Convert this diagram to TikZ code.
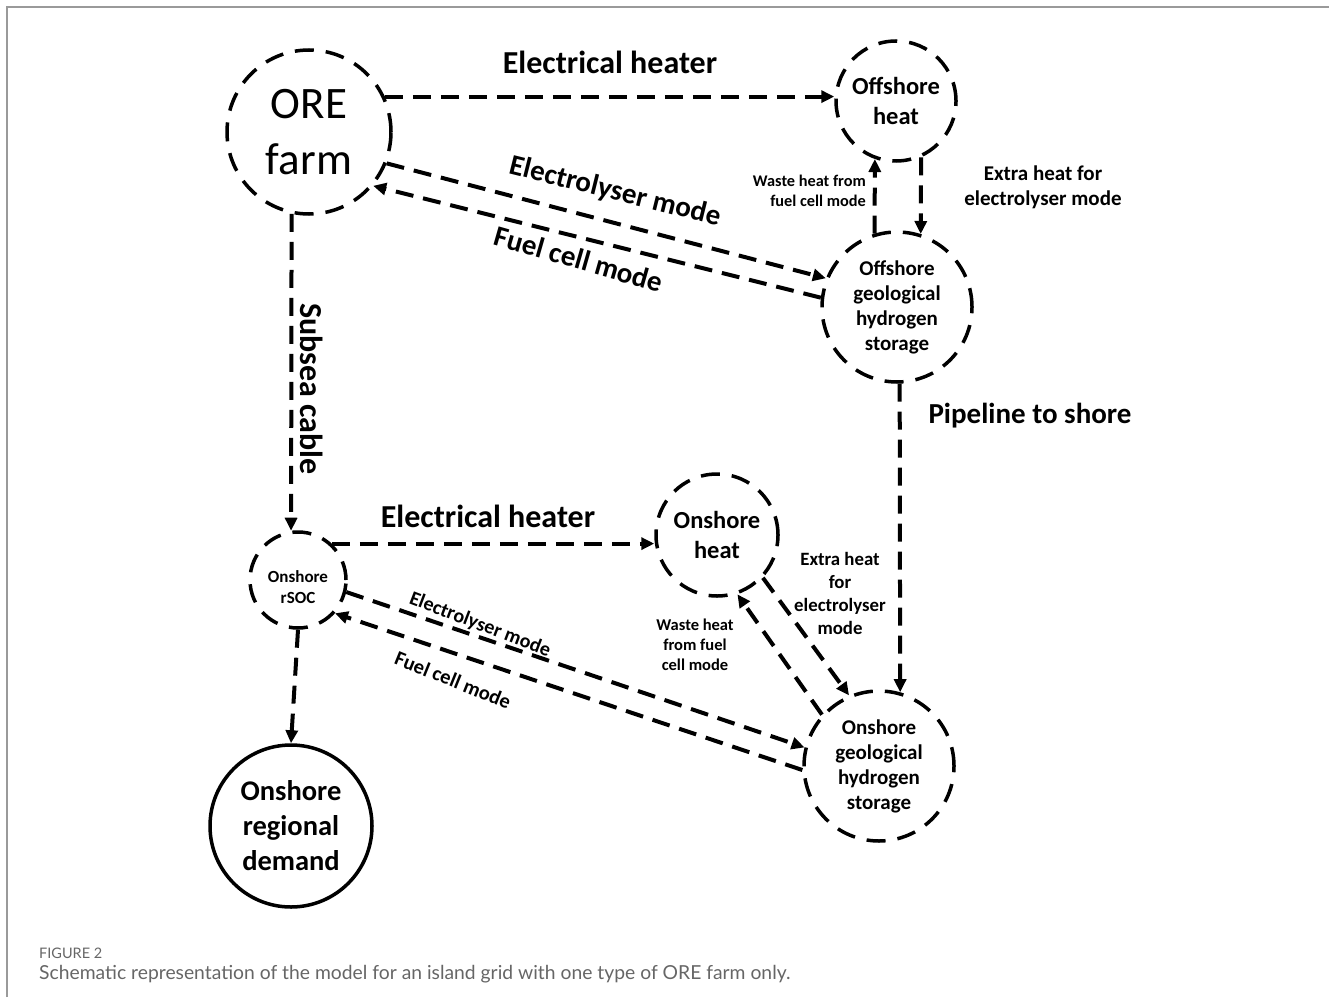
\documentclass[tikz,border=0pt]{standalone}
\usepackage{fontspec}
\setmainfont{Carlito}
\newfontfamily\capfont{Lato}
\usetikzlibrary{arrows.meta}
\definecolor{frameg}{HTML}{9A9A9A}
\definecolor{capg}{HTML}{666666}
\begin{document}
\begin{tikzpicture}[x=1pt,y=-1pt,
  dcirc/.style={circle, draw, line width=3.5pt, dash pattern=on 19pt off 12pt, inner sep=0pt, align=center},
  scirc/.style={circle, draw, line width=3.5pt, inner sep=0pt, align=center},
  arr/.style={line width=4pt, dash pattern=on 18pt off 10pt, -{Triangle[length=13pt,width=12pt]}},
  lbl/.style={font=\bfseries\fontsize{#1}{#1}\selectfont, inner sep=0pt, align=center},
]
\useasboundingbox (0,0) rectangle (1329,1003);
% frame
\draw[frameg, line width=2pt] (7,997) -- (7,7) -- (1329,7);

% nodes
\node[dcirc, minimum size=164pt, font=\fontsize{45}{56}\selectfont] (ore) at (309,132) {ORE\\farm};
\node[dcirc, minimum size=120pt, font=\bfseries\fontsize{24.5}{30}\selectfont] (offheat) at (896,101) {Offshore\\heat};
\node[dcirc, minimum size=150pt, font=\bfseries\fontsize{21}{25}\selectfont] (offstore) at (897,307) {Offshore\\geological\\hydrogen\\storage};
\node[dcirc, minimum size=96pt,
  label={[inner sep=0pt, align=center, font=\bfseries\fontsize{17}{21}\selectfont, yshift=-7pt]center:Onshore\\rSOC}] (rsoc) at (298,580) {};
\node[dcirc, minimum size=122pt, font=\bfseries\fontsize{24.5}{30}\selectfont] (onheat) at (717,535) {Onshore\\heat};
\node[dcirc, minimum size=150pt, font=\bfseries\fontsize{21}{25}\selectfont] (onstore) at (879,766) {Onshore\\geological\\hydrogen\\storage};
\node[scirc, minimum size=162pt, font=\bfseries\fontsize{28.5}{35}\selectfont] (demand) at (291,826) {Onshore\\regional\\demand};

% connectors
\draw[arr] (ore.25) -- (ore.25 -| offheat.west);
\draw[arr] (ore.-22) -- (offstore.158);
\draw[arr] (offstore.173) -- (ore.-40);
\draw[arr] (offstore.107) -- (offheat.-110.5);
\draw[arr] (offheat.-66.4) -- (offstore.72.1);
\draw[arr] (offstore.-88.5) -- (onstore.74.5);
\draw[arr] (ore.-102.7) -- (rsoc.98.4);
\draw[arr] (rsoc.47) -- (rsoc.47 -| onheat.west);
\draw[arr] (rsoc.-14) -- (onstore.166.3);
\draw[arr] (onstore.183.5) -- (rsoc.-42.6);
\draw[arr] (onstore.138.5) -- (onheat.-71.6);
\draw[arr] (onheat.-43) -- (onstore.113.6);
\draw[arr] (rsoc.south) -- (demand.north);

% labels
\node[lbl=32] (l1) at (610,62) {Electrical heater};
\node[lbl=29, rotate=-14] (l2) at (615,192) {Electrolyser mode};
\node[lbl=29, rotate=-16] (l3) at (579,259) {Fuel cell mode};
\node[lbl=16.3, font=\bfseries\fontsize{16.3}{20}\selectfont, align=right, anchor=east] (l4) at (866,191) {Waste heat from\\fuel cell mode};
\node[lbl=21, font=\bfseries\fontsize{21}{25}\selectfont] (l5) at (1043,187) {Extra heat for\\electrolyser mode};
\node[lbl=29] (l6) at (1030,416) {Pipeline to shore};
\node[lbl=32, rotate=-90] (l7) at (312,389) {Subsea cable};
\node[lbl=32] (l8) at (488,516) {Electrical heater};
\node[lbl=20, rotate=-21] (l9) at (480,625) {Electrolyser mode};
\node[lbl=20.5, rotate=-22] (l10) at (453,680) {Fuel cell mode};
\node[lbl=16.5, font=\bfseries\fontsize{16.5}{20}\selectfont] (l11) at (695,645) {Waste heat\\from fuel\\cell mode};
\node[lbl=18.8, font=\bfseries\fontsize{18.8}{23}\selectfont] (l12) at (840,593) {Extra heat\\for\\electrolyser\\mode};

% caption
\node[anchor=base west, inner sep=0pt, text=capg, font=\capfont\fontsize{14.5}{14.5}\selectfont] (fig) at (39,958) {FIGURE 2};
\node[anchor=base west, inner sep=0pt, text=capg, font=\capfont\fontsize{19.3}{19.3}\selectfont] (cap) at (39,979) {Schematic representation of the model for an island grid with one type of ORE farm only.};
\end{tikzpicture}
\end{document}
